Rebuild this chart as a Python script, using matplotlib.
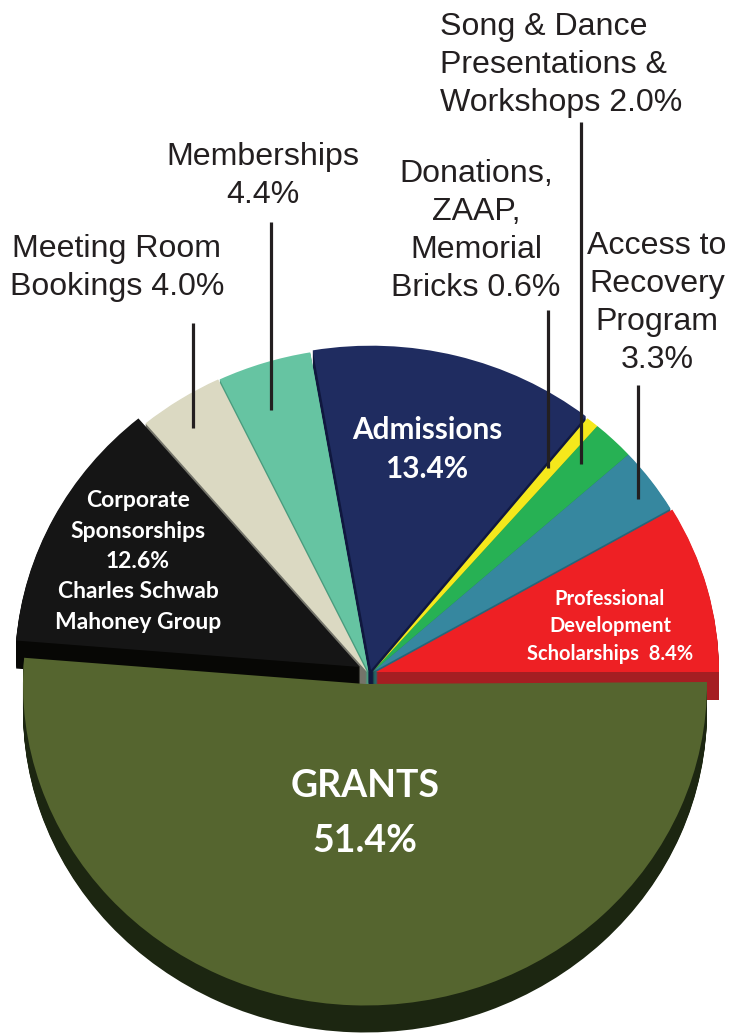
import matplotlib
matplotlib.use("Agg")
import matplotlib.pyplot as plt

# Data: shares in percent, counter-clockwise from the right
slices = ["Professional Development Scholarships", "Access to Recovery Program",
          "Song & Dance Presentations & Workshops", "Donations, ZAAP, Memorial Bricks",
          "Admissions", "Memberships", "Meeting Room Bookings",
          "Corporate Sponsorships", "GRANTS"]
shares = [8.4, 3.3, 2.0, 0.6, 13.4, 4.4, 4.0, 12.6, 51.4]

face_colors = ["#ee2024", "#36879f", "#27b154", "#f5e81c", "#1f2c60",
               "#66c4a2", "#dbd9c2", "#151515", "#55652f"]
side_colors = ["#a51e22", "#25667a", "#1b8a40", "#b5ab15", "#10183f",
               "#4a9c7e", "#74746a", "#070705", "#1c2611"]
# Slice centres in pixels of the picture
centres_px = [(376, 672), (372.5, 672), (372.5, 672), (372.5, 672), (371, 670),
              (368.5, 672), (367, 672), (360, 667), (365, 684)]
radii = [343, 345, 345, 345, 345, 345, 345, 345, 342]
depths = [28, 28, 28, 28, 28, 28, 28, 28, 27]
draw_order = [4, 3, 2, 1, 0, 5, 6, 7, 8]

W, H = 732, 1034
SQUASH = 0.94
DARK = "#231f20"
SANS = "Liberation Sans"
BOLD = "Lato"

fig = plt.figure(figsize=(W / 100, H / 100), dpi=100)
ax = fig.add_axes([0, 0, 1, 1])


def yd(py):
    return (H - py) / SQUASH


starts = [sum(shares[:i]) * 3.6 for i in range(len(shares))]
for i in draw_order:
    cx, cy = centres_px[i]
    frac = shares[i] / 100
    for d in range(depths[i], 0, -1):
        ax.pie([frac], normalize=False, startangle=starts[i], radius=radii[i],
               center=(cx, yd(cy + d)), colors=[side_colors[i]],
               wedgeprops={"linewidth": 0})
    ax.pie([frac], normalize=False, startangle=starts[i], radius=radii[i],
           center=(cx, yd(cy)), colors=[face_colors[i]],
           wedgeprops={"linewidth": 0})

ax.set_aspect("auto")
ax.set_xlim(0, W)
ax.set_ylim(0, H / SQUASH)
ax.axis("off")

# Leader lines
leader_x = [193, 271, 548, 581, 638]
leader_top = [323, 222, 310, 122, 385]
leader_bottom = [428, 410, 468, 464, 499]
for x, t, b in zip(leader_x, leader_top, leader_bottom):
    ax.plot([x, x], [yd(t), yd(b)], color=DARK, lw=2.3, solid_capstyle="butt", zorder=5)

# Outer labels
outer = [
    (440, 65, "left", "Song & Dance\nPresentations &\nWorkshops 2.0%"),
    (476, 231, "center", "Donations,\nZAAP,\nMemorial\nBricks 0.6%"),
    (657, 303, "center", "Access to\nRecovery\nProgram\n3.3%"),
    (263, 176, "center", "Memberships\n4.4%"),
    (117, 268, "center", "Meeting Room\nBookings 4.0%"),
]
for x, y, ha, s in outer:
    ax.text(x, yd(y), s, ha=ha, va="center", fontsize=23.1, family=SANS,
            color=DARK, linespacing=1.34, multialignment=ha, zorder=6)

# Labels on the slices
inner = [
    (365, 813.5, 27, 1.745, "GRANTS\n51.4%"),
    (427, 449.5, 21.4, 1.48, "Admissions\n13.4%"),
    (138, 561.5, 16.5, 1.55, "Corporate\nSponsorships\n12.6%\nCharles Schwab\nMahoney Group"),
    (610, 626.5, 14.5, 1.45, "Professional\nDevelopment\nScholarships  8.4%"),
]
for x, y, size, spacing, s in inner:
    ax.text(x, yd(y), s, ha="center", va="center", fontsize=size, family=BOLD,
            weight="bold", color="white", linespacing=spacing, zorder=6)

fig.savefig("out.png", dpi=100, facecolor="white")
